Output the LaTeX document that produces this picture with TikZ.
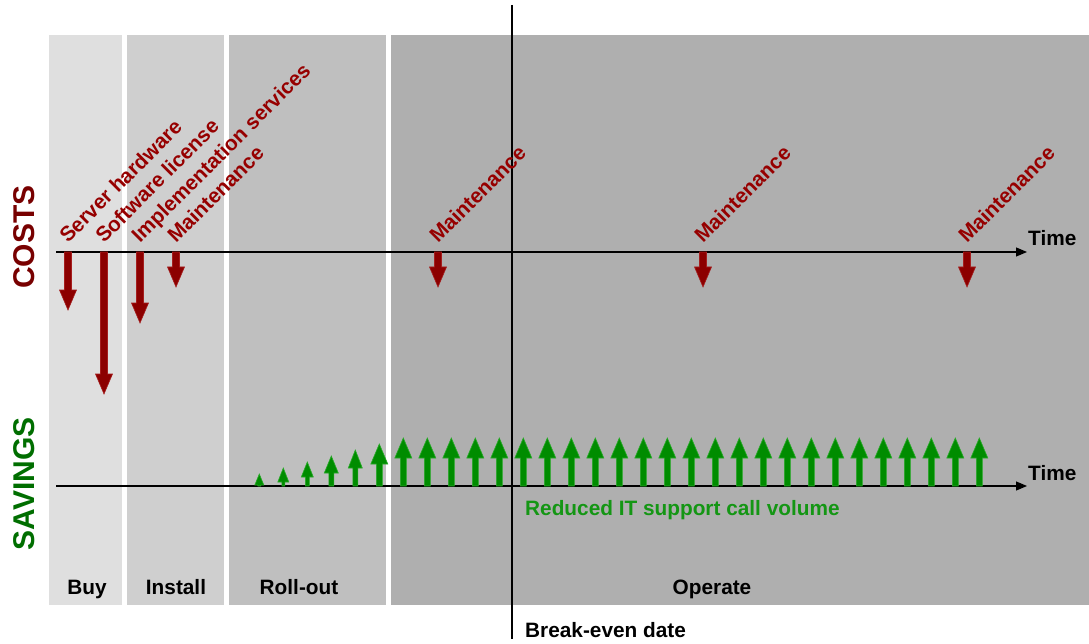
\documentclass[tikz,border=0pt]{standalone}
\usepackage{fontspec}
\setmainfont{Liberation Sans}
\usetikzlibrary{arrows.meta}
\definecolor{buyc}{RGB}{223,223,223}
\definecolor{instc}{RGB}{207,207,207}
\definecolor{rollc}{RGB}{191,191,191}
\definecolor{operc}{RGB}{175,175,175}
\definecolor{costred}{RGB}{140,0,0}
\definecolor{costedge}{RGB}{165,30,30}
\definecolor{costtxt}{RGB}{150,0,0}
\definecolor{costhead}{RGB}{120,0,0}
\definecolor{savgreen}{RGB}{0,140,0}
\definecolor{savedge}{RGB}{40,170,40}
\definecolor{savhead}{RGB}{0,110,0}
\definecolor{savtxt}{RGB}{20,150,20}
\newcommand\costarrow[2]{%
  \filldraw[costarr] (#1-3.5,252) -- (#1+3.5,252) -- (#1+3.5,#2-20) -- (#1+8.5,#2-20)
    -- (#1,#2) -- (#1-8.5,#2-20) -- (#1-3.5,#2-20) -- cycle;}
\newcommand\savearrow[5]{%
  \filldraw[savarr] (#1-#5,486) -- (#1+#5,486) -- (#1+#5,486-#2+#3) -- (#1+#4,486-#2+#3)
    -- (#1,486-#2) -- (#1-#4,486-#2+#3) -- (#1-#5,486-#2+#3) -- cycle;}
\begin{document}
\begin{tikzpicture}[x=1pt,y=-1pt,
  lbl/.style={inner sep=0pt, font=\fontsize{20.8}{25}\selectfont\bfseries},
  costlbl/.style={lbl, text=costtxt, rotate=45, anchor=base west},
  axisline/.style={line width=1.2pt, -{Triangle[length=11pt,width=9pt]}},
  costarr/.style={fill=costred, draw=costedge, line width=0.6pt},
  savarr/.style={fill=savgreen, draw=savedge, line width=0.6pt},
  bigtitle/.style={inner sep=0pt, font=\fontsize{30}{36}\selectfont\bfseries, rotate=90}]
\useasboundingbox (0,0) rectangle (1089,644);
% phase panels
\fill[buyc] (49,35) rectangle (122,605);
\fill[instc] (127,35) rectangle (224,605);
\fill[rollc] (229,35) rectangle (386,605);
\fill[operc] (391,35) rectangle (1089,605);
% break-even line
\coordinate (be0) at (512,5);
\coordinate (be1) at (512,639);
\draw[line width=1.2pt] (be0) -- (be1);
% axes
\coordinate (c0) at (56,252);
\coordinate (c1) at (1027,252);
\coordinate (s0) at (56,486);
\coordinate (s1) at (1027,486);
\draw[axisline] (c0) -- (c1);
\draw[axisline] (s0) -- (s1);
\node[lbl, anchor=base west] (tc) at (1028,246) {Time};
\node[lbl, anchor=base west] (ts) at (1028,480) {Time};
% titles
\node[bigtitle, text=costhead] (costs) at (24,237) {COSTS};
\node[bigtitle, text=savhead] (savings) at (24,484) {SAVINGS};
% cost arrows
\costarrow{68}{310}
\costarrow{104}{394}
\costarrow{140}{323}
\costarrow{176}{287}
\costarrow{438}{287}
\costarrow{703}{287}
\costarrow{967}{287}
\node[costlbl] (l1) at (68,244) {Server hardware};
\node[costlbl] (l2) at (104,244) {Software license};
\node[costlbl] (l3) at (140,244) {Implementation services};
\node[costlbl] (l4) at (176,244) {Maintenance};
\node[costlbl] (l5) at (438,244) {Maintenance};
\node[costlbl] (l6) at (703,244) {Maintenance};
\node[costlbl] (l7) at (967,244) {Maintenance};
% savings arrows
\savearrow{259.3}{12}{11}{4.5}{1.5}
\savearrow{283.3}{18}{14}{5.5}{1.5}
\savearrow{307.3}{24}{15}{6}{2}
\savearrow{331.3}{30}{17}{7}{2.5}
\savearrow{355.3}{36}{18}{7}{2.5}
\savearrow{379.3}{42}{20}{8.5}{3}
\foreach \i in {6,...,30} {\savearrow{259.3+\i*24}{48}{20}{8.5}{3}}
\node[lbl, text=savtxt, anchor=base west] (red) at (525,515) {Reduced IT support call volume};
% phase labels
\node[lbl, anchor=base] (buy) at (87,594) {Buy};
\node[lbl, anchor=base] (inst) at (176,594) {Install};
\node[lbl, anchor=base] (roll) at (299,594) {Roll-out};
\node[lbl, anchor=base] (oper) at (712,594) {Operate};
\node[lbl, anchor=base west] (bed) at (525,637) {Break-even date};
\end{tikzpicture}
\end{document}
